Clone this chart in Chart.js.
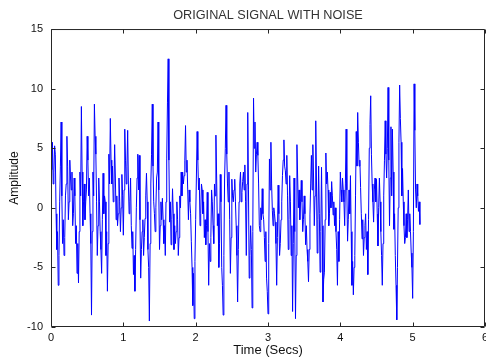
<!DOCTYPE html>
<html>
<head>
<meta charset="utf-8">
<script src="https://cdn.jsdelivr.net/npm/chart.js@4/dist/chart.umd.min.js"></script>
<style>
  html, body { margin: 0; padding: 0; background: #fff; }
</style>
</head>
<body>
<canvas id="chart" width="486" height="358"></canvas>
<script>
// sample period of the recorded signal (seconds)
const timeStep = 0.01;

// noisy signal (one row per ~0.66 s)
const noisyAmplitude = [
  4.8, 3.2, 5.5, 2.0, 3.0, 5.2, 4.5, -0.5, -3.5, -2.0, -6.5, -4.0, 0.5, 3.5, 7.2, 1.0, -3, -1.0, -4, -2.5, 1, 2.0, 6.0, 3.5, -1, 0.5, 4.0, 2.5, 1.5, 3.0, -1.5, -0.5, 2.5, 1.0, -3, -1.5, -5.5, -3.0, -6.3, -2.0, 3.0, 1.0, 8.5, 3.0, -1.5, 0.5, 2, -1.0, 0.5, 1.5, 6.0, 4.0, 1, 2.5, -0.5, -3.0, -9.0, -2.0, 3, 1.0, 8.7, 6.0, 4.5, 0.5, -4, -1.5,
  2.5, 0.5, -2, -3.5, -5.5, -1.0, 2.9, -0.5, 1.0, 0.5, -4.0, -2.0, -7.0, -3.0, 4.5, 2.0, 7.5, 4.0, 2.0, 3.5, 0.5, 1.5, 5.3, 2.5, -1, 1.0, -1.5, -0.5, 2.5, 0.5, -2, 0.0, 2.8, 1.0, -2.3, 1.5, 6.6, 4.0, 2, 3.5, 6.5, 2.0, -0.5, 0.5, 2.5, -1.5, -3.4, -2.0, -5.6, -4.0, -7.0, -3.5, 0, 2.5, 4.5, 1.5, 4.4, -1.0, -5.9, -3.5, -2, -1.0, -4, -2.5, -0.9, 1.0,
  2.9, 0.5, -3.5, -5.0, -9.5, -3.0, 2, 4.5, 8.7, 3.5, 0.5, -0.5, -2, 0.0, 2.5, 3.0, 7.2, 1.5, -3.5, -1.5, 0.5, -1.0, 0.8, -1.0, -3, -1.5, -4, 0.5, 4.1, 8.8, 12.5, 4.0, -1.2, 0.5, -3.1, -1.0, 1.6, -0.5, -3.5, -1.5, -3, -2.0, 0.5, -1.0, -4, -2.5, 1, 0.0, 3, 1.0, 3, 2.0, 2.7, 4.0, 6.9, 3.0, 4, 1.5, -1, 1.5, 0.5, -0.5, -2.8, -5.0, -8.2, -5.5,
  -9.3, -4.5, -1, 2.5, 6.4, 4.0, 1.5, 2.5, -1.5, -0.5, 2, 1.5, -0.5, 0.5, -2.5, -1.0, -3.1, -1.5, 1.3, -2.0, -6.5, -3.0, -4.5, -2.5, 1.5, 0.5, -1.5, -3.0, 2, 1.0, 6.1, 2.5, -1.5, -0.5, -5, -3.0, 2.8, 0.5, -5, -6.5, -9.0, -4.0, 2.5, 5.0, 8.6, 4.5, 2, 0.5, 3, -1.0, -5.5, -2.5, 2.4, 1.0, 0.5, 1.5, 2.4, 0.5, -1.5, -4.0, -7.9, -3.5, 0.5, 2.0, 3, 0.5, 1.3, 2.2,
  3, 1.5, 3.6, 0.5, -4, 2.0, 8.0, 1.5, -5.9, -4.0, -1.5, -3.5, -8.4, -2.0, 9.2, 5.0, 7.2, 3.0, 4.5, 5.5, 4.4, 2.0, -1.5, -2.0, 0, -1.0, 1.6, -0.5, -1, -2.5, -4.5, -2.0, -5.9, -7.0, -8.9, -3.0, 4.1, 1.5, 5.5, 2.0, -0.2, -1.5, 0, -0.5, -1.2, -3.0, -6.5, -2.5, 1.9, -0.5, -4, -3.0, -1, 0.5, 2.7, 4.0, 5.7, 3.5, 3.1, 2.0, 4.4, 1.0, -3.5, -1.0, 2.7, 0.5,
  -4, -1.5, -8.7, -3.0, 2.5, -2.0, -9.3, -4.0, 5.3, 2.5, 0, 1.5, -1, 0.5, 2.3, 0.5, -2, -1.0, 1, -0.5, -3.1, -1.5, -3.5, -4.5, -6.2, -3.5, -0.6, 2.0, 4.4, 1.5, 5.3, 2.5, -1.5, 1.0, 7.3, 2.5, -3.8, -1.0, 3.5, -0.5, -5.4, -2.0, 3.4, -1.5, -7.9, -6.0, -5.4, -1.0, 4.6, 2.0, 3, 1.5, -1.5, -0.5, 1.3, 0.0, 2.2, 1.0, -0.6, 0.5, -1.5, 0.0, -2, -3.5, -6.5, -2.0,
  -4.5, -1.0, 3, 1.5, 0.5, 2.5, 1.5, 0.5, -1.5, 2.0, 6.6, 1.5, -2.8, -1.0, 1.5, -0.5, 2.7, -2.0, -6.5, -4.5, -7.3, -5.0, -4, 1.0, 6.4, 3.5, 8.0, 5.5, 3.5, 4.0, 1.7, -0.5, -2.6, -1.0, -4, -2.5, -1.5, -0.5, -3.5, -2.0, -5.6, -1.0, 5, 7.0, 9.4, 4.5, 2, 0.5, -1.2, 1.5, 2.5, 0.5, 2.4, -0.5, -3.2, 0.0, 2.5, 0.5, -2, -4.0, -6.5, -3.0, 1, 4.0, 7.3, 4.5,
  2.5, 5.0, 10.1, 4.0, -1.5, 2.5, 6.8, 1.0, 6.6, 3.0, -1.8, -0.5, -4, -6.5, -9.4, -5.0, 0, 5.5, 10.3, 7.5, 5.5, 1.0, 3.3, 0.5, -1.5, -3.0, -2.5, -0.5, -2.5, -1.0, 1.5, -2.0, -0.5, -2.0, -3.8, -5.0, -7.6, -2.0, 10.4, 6.5, 1.5, 0.0, 2, 1.0, -0.3, 0.5, -1.4
];

const xTicks = [0, 1, 2, 3, 4, 5, 6];
const yTicks = [-10, -5, 0, 5, 10, 15];

const titleText = 'ORIGINAL SIGNAL WITH NOISE';
const xLabel = 'Time (Secs)';
const yLabel = 'Amplitude';

const points = noisyAmplitude.map((v, i) => ({ x: +(i * timeStep).toFixed(2), y: v }));

const fontFamily = '"Liberation Sans", Arial, Helvetica, sans-serif';

// box round the axes with inward tick marks (matlab look)
const boxTicks = {
  id: 'boxTicks',
  afterDraw(chart) {
    const { ctx, chartArea: a, scales: { x, y } } = chart;
    const L = a.left + 0.5, R = a.right - 0.5, T = a.top + 0.5, B = a.bottom - 0.5;
    const len = 4;
    ctx.save();
    ctx.strokeStyle = '#262626';
    ctx.lineWidth = 1;
    ctx.beginPath();
    ctx.rect(L, T, R - L, B - T);
    x.ticks.forEach(t => {
      const px = Math.round(x.getPixelForValue(t.value)) + 0.5;
      ctx.moveTo(px, B); ctx.lineTo(px, B - len);
      ctx.moveTo(px, T); ctx.lineTo(px, T + len);
    });
    y.ticks.forEach(t => {
      const py = Math.round(y.getPixelForValue(t.value)) + 0.5;
      ctx.moveTo(L, py); ctx.lineTo(L + len, py);
      ctx.moveTo(R, py); ctx.lineTo(R - len, py);
    });
    ctx.stroke();
    ctx.restore();
  }
};

new Chart(document.getElementById('chart'), {
  type: 'line',
  data: {
    datasets: [{
      data: points,
      borderColor: '#0000ff',
      borderWidth: 1,
      pointRadius: 0,
      tension: 0,
      fill: false
    }]
  },
  options: {
    responsive: false,
    animation: false,
    layout: { padding: { left: 0, right: 1, top: 0, bottom: 0 } },
    plugins: {
      legend: { display: false },
      tooltip: { enabled: false },
      title: {
        display: true,
        text: titleText,
        fullSize: false,
        color: '#333',
        font: { family: fontFamily, size: 12.7, weight: 'normal' },
        padding: { top: 7.6, bottom: 6.2 }
      }
    },
    scales: {
      x: {
        type: 'linear',
        min: 0,
        max: 6,
        afterBuildTicks: s => { s.ticks = xTicks.map(v => ({ value: v })); },
        afterFit: s => { s.height = 31; s.paddingLeft = 0; s.paddingRight = 0; },
        grid: { display: false, drawTicks: false },
        border: { display: false },
        ticks: { color: '#111', padding: 4, maxRotation: 0, font: { family: fontFamily, size: 11 } },
        title: {
          display: true,
          text: xLabel,
          color: '#111',
          padding: { top: 0, bottom: 0 },
          font: { family: fontFamily, size: 13 }
        }
      },
      y: {
        min: -10,
        max: 15,
        afterBuildTicks: s => { s.ticks = yTicks.map(v => ({ value: v })); },
        afterFit: s => { s.width = 51; s.paddingTop = 0; s.paddingBottom = 0; },
        grid: { display: false, drawTicks: false },
        border: { display: false },
        ticks: { color: '#111', padding: 8, font: { family: fontFamily, size: 11 } },
        title: {
          display: true,
          text: yLabel,
          color: '#111',
          padding: { top: 7, bottom: 0 },
          font: { family: fontFamily, size: 12 }
        }
      }
    }
  },
  plugins: [boxTicks]
});
</script>
</body>
</html>
